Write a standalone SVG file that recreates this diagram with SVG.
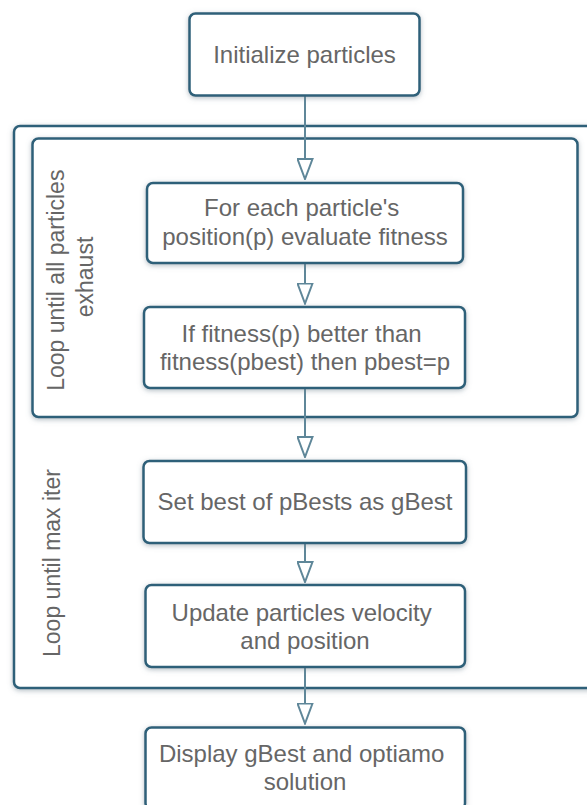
<svg xmlns="http://www.w3.org/2000/svg" width="587" height="805" viewBox="0 0 587 805">
  <defs>
    <filter id="shadow" x="-10%" y="-10%" width="120%" height="130%">
      <feDropShadow dx="0" dy="1.5" stdDeviation="2.5" flood-color="#6b7f8c" flood-opacity="0.5"/>
    </filter>
    <marker id="open-arrow" viewBox="0 0 22 17" refX="21" refY="8.5" markerWidth="22" markerHeight="17" markerUnits="userSpaceOnUse" orient="auto">
      <path d="M1,1 L21,8.5 L1,16 Z" fill="#ffffff" stroke="#5f8799" stroke-width="2" stroke-linejoin="miter"/>
    </marker>
    <style>
      .box { fill: #ffffff; stroke: #2f6079; stroke-width: 2.5; filter: url(#shadow); }
      .frame { fill: #ffffff; stroke: #2f6079; stroke-width: 2.5; filter: url(#shadow); }
      .label { font-family: "Liberation Sans", Arial, Helvetica, sans-serif; font-size: 24px; fill: #666666; text-anchor: middle; }
      .side { font-family: "Liberation Sans", Arial, Helvetica, sans-serif; font-size: 23px; fill: #666666; text-anchor: middle; }
      .edge { fill: none; stroke: #5f8799; stroke-width: 2; marker-end: url(#open-arrow); }
    </style>
  </defs>

  <rect width="587" height="805" fill="#ffffff"/>

  <!-- outer loop: repeat until max iter -->
  <g id="loop-iter">
    <rect class="frame" x="14" y="126" width="590" height="562" rx="6"/>
    <text class="side" transform="translate(60,563) rotate(-90)" x="0" y="0">Loop until max iter</text>
  </g>

  <!-- inner loop: repeat over all particles -->
  <g id="loop-particles">
    <rect class="frame" x="32.5" y="138.5" width="545" height="278.5" rx="6"/>
    <text class="side" transform="translate(64,277) rotate(-90)" x="0" y="0">
      <tspan x="0" y="0">Loop until all particles</tspan>
      <tspan x="0" y="29">exhaust</tspan>
    </text>
  </g>

  <g id="connectors">
    <line class="edge" x1="305" y1="96" x2="305" y2="179"/>
    <line class="edge" x1="305" y1="264" x2="305" y2="303.5"/>
    <line class="edge" x1="305" y1="389" x2="305" y2="457"/>
    <line class="edge" x1="305" y1="544" x2="305" y2="582"/>
    <line class="edge" x1="305" y1="668" x2="305" y2="723.5"/>
  </g>

  <g id="init">
    <rect class="box" x="189.5" y="13.5" width="230" height="82" rx="6"/>
    <text class="label" x="304.5" y="62.5">Initialize particles</text>
  </g>

  <g id="evaluate">
    <rect class="box" x="147" y="183" width="316" height="80" rx="6"/>
    <text class="label">
      <tspan x="305" y="215.5">For each particle's</tspan>
      <tspan x="305" y="245">position(p) evaluate fitness</tspan>
    </text>
  </g>

  <g id="update-pbest">
    <rect class="box" x="144" y="307" width="321" height="81" rx="6"/>
    <text class="label">
      <tspan x="305" y="341.5">If fitness(p) better than</tspan>
      <tspan x="305" y="370">fitness(pbest) then pbest=p</tspan>
    </text>
  </g>

  <g id="set-gbest">
    <rect class="box" x="143.5" y="461" width="322.5" height="82" rx="6"/>
    <text class="label" x="305" y="510">Set best of pBests as gBest</text>
  </g>

  <g id="move-particles">
    <rect class="box" x="145.5" y="585" width="319.5" height="82" rx="6"/>
    <text class="label">
      <tspan x="305" y="620.5">Update particles velocity</tspan>
      <tspan x="305" y="648.5">and position</tspan>
    </text>
  </g>

  <g id="display">
    <rect class="box" x="145.5" y="727.5" width="319.5" height="82" rx="6"/>
    <text class="label">
      <tspan x="305" y="761.5">Display gBest and optiamo</tspan>
      <tspan x="305" y="790">solution</tspan>
    </text>
  </g>
</svg>
